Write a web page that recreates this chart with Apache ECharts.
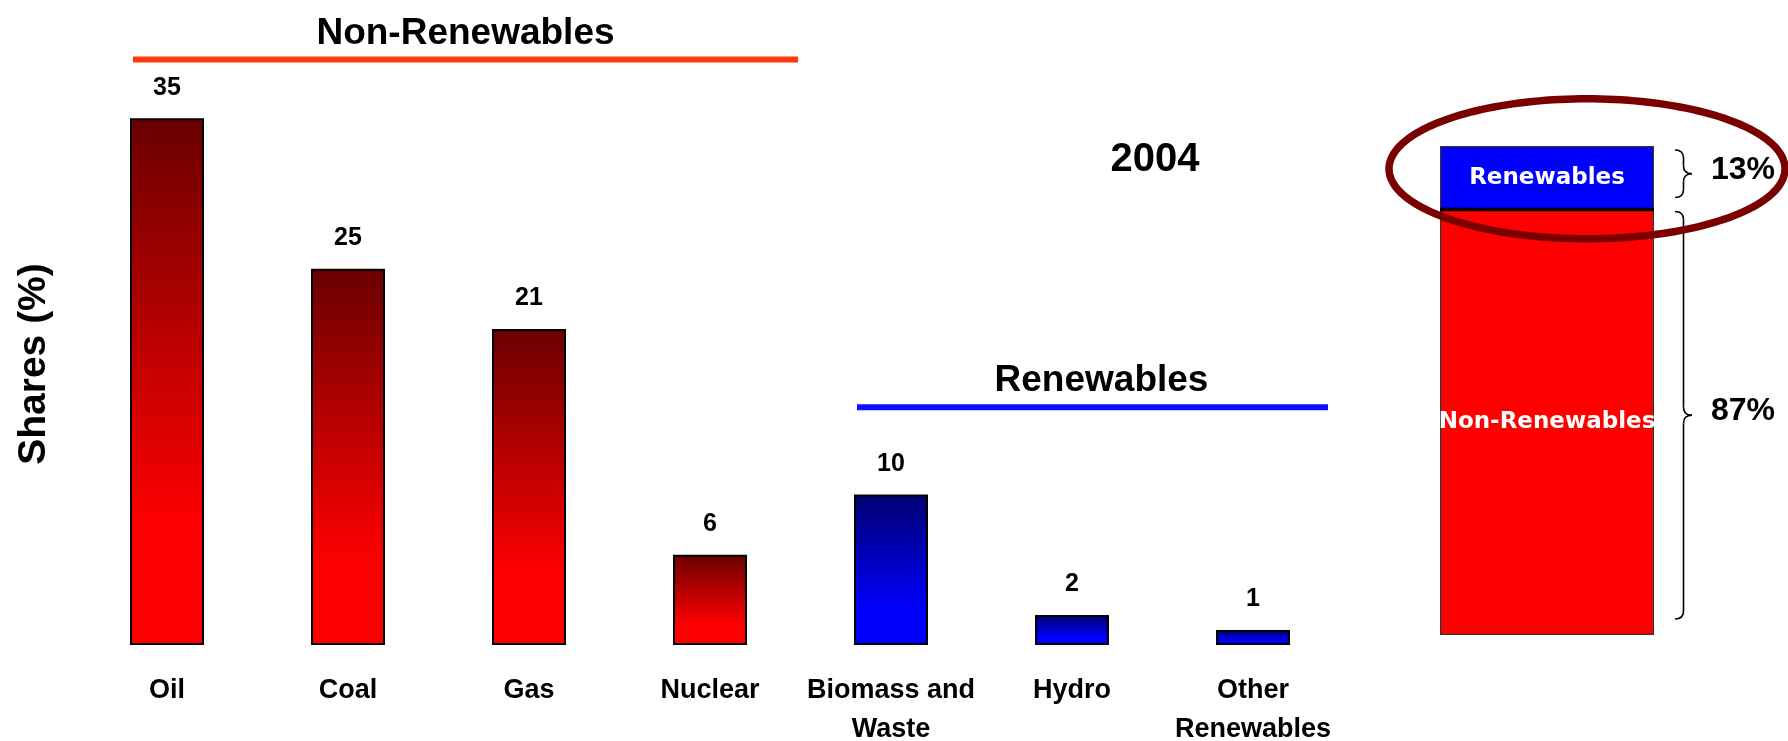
<!DOCTYPE html>
<html><head><meta charset="utf-8">
<script src="https://cdn.jsdelivr.net/npm/echarts@6/dist/echarts.min.js"></script>
<style>html,body{margin:0;padding:0;background:#fff}#c{width:1788px;height:741px}</style>
</head><body><div id="c"></div>
<script>
// ---- data ----
const categories = ['Oil', 'Coal', 'Gas', 'Nuclear', 'Biomass and\nWaste', 'Hydro', 'Other\nRenewables'];
const shares = [35, 25, 21, 6, 10, 2, 1];
const groups = ['non', 'non', 'non', 'non', 'ren', 'ren', 'ren'];
const groupTitles = { non: 'Non-Renewables', ren: 'Renewables' };
const yearLabel = '2004';
const totalNames = ['Non-Renewables', 'Renewables'];
const totalShares = [87, 13];
const yTitle = 'Shares (%)';

// ---- styles ----
const FONT = '"Liberation Sans", Arial, sans-serif';
const grad = {
  non: ['#6a0000', '#ff0000'],
  ren: ['#000070', '#0000ff']
};
const headerStyle = {
  non: { color: '#ff3a0a', level: 38.9, extendRight: 88, textDx: 0 },
  ren: { color: '#0a10ff', level: 15.8, extendRight: 75, textDx: 9 }
};

function gradient(g) {
  return new echarts.graphic.LinearGradient(0, 0, 0, 1, [
    { offset: 0, color: grad[g][0] },
    { offset: 0.78, color: grad[g][1] },
    { offset: 1, color: grad[g][1] }
  ]);
}

const barData = shares.map((v, i) => ({
  value: v,
  itemStyle: { color: gradient(groups[i]) }
}));

const chart = echarts.init(document.getElementById('c'), null, { renderer: 'canvas' });

const option = {
  animation: false,
  backgroundColor: '#ffffff',
  grid: [
    { left: 76.5, width: 1267, top: 43, bottom: 96, containLabel: false, outerBoundsMode: 'none' },
    { left: 1440, width: 214, top: 146, bottom: 106, containLabel: false, outerBoundsMode: 'none' }
  ],
  xAxis: [
    {
      gridIndex: 0, type: 'category', data: categories,
      axisLine: { show: false }, axisTick: { show: false },
      axisLabel: {
        interval: 0, margin: 26, color: '#000', fontFamily: FONT,
        fontWeight: 'bold', fontSize: 27, lineHeight: 39
      }
    },
    {
      gridIndex: 1, type: 'category', data: [yearLabel], show: false
    }
  ],
  yAxis: [
    {
      gridIndex: 0, type: 'value', min: 0, max: 40,
      axisLine: { show: false }, axisTick: { show: false },
      axisLabel: { show: false }, splitLine: { show: false }
    },
    {
      gridIndex: 1, type: 'value', min: 0, max: 100, show: false, splitLine: { show: false }
    }
  ],
  series: [
    {
      type: 'bar', xAxisIndex: 0, yAxisIndex: 0, data: barData, barWidth: 74,
      itemStyle: { borderColor: '#000', borderWidth: 2 },
      label: {
        show: true, position: 'top', distance: 18, color: '#000',
        fontFamily: FONT, fontWeight: 'bold', fontSize: 25
      }
    },
    {
      type: 'bar', name: totalNames[0], xAxisIndex: 1, yAxisIndex: 1, stack: 'total',
      data: [totalShares[0]], barWidth: '100%',
      itemStyle: { color: '#ff0000', borderColor: '#333', borderWidth: 1.2 },
      label: {
        show: true, position: 'inside', formatter: totalNames[0], color: '#fff',
        fontFamily: '"DejaVu Sans", sans-serif', fontWeight: 'bold', fontSize: 23
      }
    },
    {
      type: 'bar', name: totalNames[1], xAxisIndex: 1, yAxisIndex: 1, stack: 'total',
      data: [totalShares[1]], barWidth: '100%',
      itemStyle: { color: '#0000ff', borderColor: '#333', borderWidth: 1.2 },
      label: {
        show: true, position: 'inside', formatter: totalNames[1], color: '#fff',
        fontFamily: '"DejaVu Sans", sans-serif', fontWeight: 'bold', fontSize: 23
      }
    }
  ]
};
chart.setOption(option);

// ---- annotations computed from the axes ----
const px = (i, v) => chart.convertToPixel({ seriesIndex: 0 }, [i, v]);
const px2 = (v) => chart.convertToPixel({ seriesIndex: 1 }, [0, v]);
const halfBar = 37;
const elements = [];

['non', 'ren'].forEach(g => {
  const idx = groups.map((x, i) => x === g ? i : -1).filter(i => i >= 0);
  const first = px(idx[0], headerStyle[g].level);
  const last = px(idx[idx.length - 1], headerStyle[g].level);
  const x0 = first[0] - halfBar + 3, x1 = last[0] + headerStyle[g].extendRight;
  const y = first[1];
  elements.push({
    type: 'line', silent: true, shape: { x1: x0, y1: y, x2: x1, y2: y },
    style: { stroke: headerStyle[g].color, lineWidth: 6 }
  });
  elements.push({
    type: 'text', silent: true, x: (x0 + x1) / 2 + headerStyle[g].textDx, y: y - 26,
    style: {
      text: groupTitles[g], fill: '#000', font: 'bold 37px ' + FONT,
      textAlign: 'center', textVerticalAlign: 'middle'
    }
  });
});

// y-axis title
elements.push({
  type: 'text', silent: true, x: 34, y: 364, rotation: Math.PI / 2,
  style: {
    text: yTitle, fill: '#000', font: 'bold 39px ' + FONT,
    textAlign: 'center', textVerticalAlign: 'middle'
  }
});

// year label
elements.push({
  type: 'text', silent: true, x: 1155, y: 160,
  style: { text: yearLabel, fill: '#000', font: 'bold 40px ' + FONT, textAlign: 'center', textVerticalAlign: 'middle' }
});

// boundary between the two stacked segments
const yB = px2(totalShares[0])[1];
elements.push({
  type: 'line', silent: true, z: 50, shape: { x1: 1440, y1: yB, x2: 1440 + 214, y2: yB },
  style: { stroke: '#000', lineWidth: 3.5 }
});

// braces and percentages
const segs = [[0, totalShares[0]], [totalShares[0], totalShares[0] + totalShares[1]]];
const braceTrim = [[2, 16], [4, 12]];
const textDy = [-11, -8];
segs.forEach((s, k) => {
  const yb = px2(s[0])[1], yt = px2(s[1])[1];
  const y0 = yt + braceTrim[k][0], y1 = yb - braceTrim[k][1];
  const ym = (y0 + y1) / 2;
  const xa = 1675, xt = 1692, xm = (xa + xt) / 2, r = 8;
  const st = { stroke: '#000', lineWidth: 1.6, fill: null };
  const curves = [
    [xa, y0, xm, y0 + r, xm, y0],
    [xm, ym - r, xt, ym, xm, ym],
    [xt, ym, xm, ym + r, xm, ym],
    [xm, y1 - r, xa, y1, xm, y1]
  ];
  curves.forEach(c => elements.push({
    type: 'bezierCurve', silent: true,
    shape: { x1: c[0], y1: c[1], x2: c[2], y2: c[3], cpx1: c[4], cpy1: c[5] }, style: st
  }));
  elements.push({ type: 'line', silent: true, shape: { x1: xm, y1: y0 + r, x2: xm, y2: ym - r }, style: st });
  elements.push({ type: 'line', silent: true, shape: { x1: xm, y1: ym + r, x2: xm, y2: y1 - r }, style: st });
  elements.push({
    type: 'text', silent: true, x: 1743, y: (yt + yb) / 2 + textDy[k],
    style: {
      text: (s[1] - s[0]) + '%', fill: '#000', font: 'bold 32px ' + FONT,
      textAlign: 'center', textVerticalAlign: 'middle'
    }
  });
});

// highlight ellipse around the renewables segment
const renMid = (px2(totalShares[0])[1] + px2(100)[1]) / 2;
const ecx = 1587, ecy = renMid - 9, erx = 198, ery = 70;
const pts = [];
for (let a = 0; a < 360; a += 2) {
  const t = a * Math.PI / 180;
  pts.push([ecx + erx * Math.cos(t), ecy + ery * Math.sin(t)]);
}
elements.push({
  type: 'polygon', silent: true, z: 100,
  shape: { points: pts },
  style: { stroke: '#7a0000', lineWidth: 7.5, fill: 'transparent' }
});

chart.setOption({ graphic: { elements } });
</script>
</body></html>
